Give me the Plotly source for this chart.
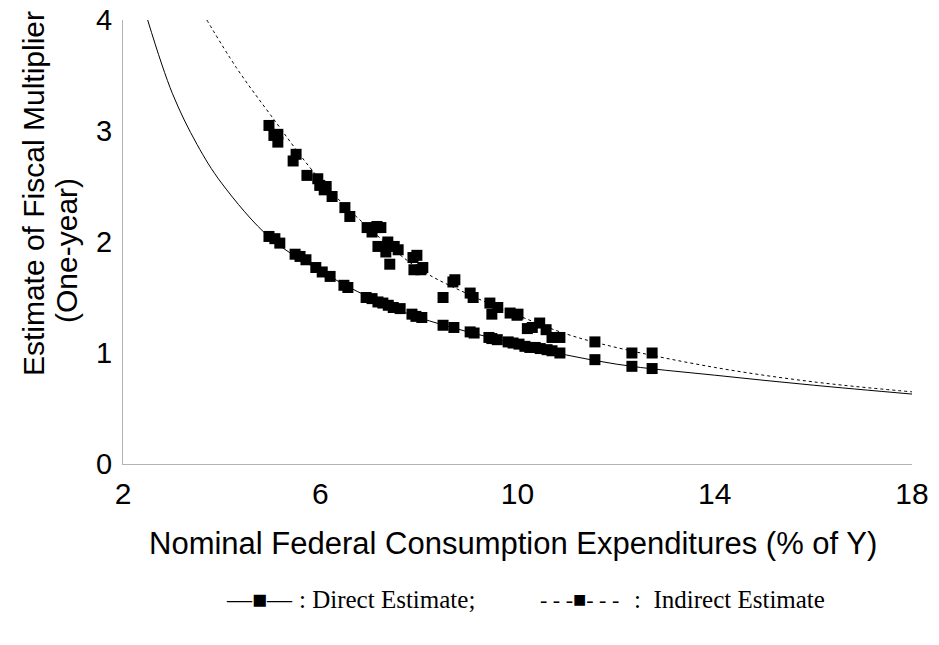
import plotly.graph_objects as go

direct_x = [4.96, 5.08, 5.18, 5.49, 5.59, 5.71, 5.91, 6.04, 6.20, 6.48, 6.56, 6.93, 7.05, 7.17,
            7.27, 7.38, 7.48, 7.62, 7.86, 7.94, 8.06, 8.49, 8.71, 9.04, 9.12, 9.42, 9.48, 9.59,
            9.81, 9.91, 10.03, 10.15, 10.25, 10.36, 10.46, 10.60, 10.70, 10.86, 11.57, 12.32, 12.73]
direct_y = [2.05, 2.03, 1.99, 1.89, 1.87, 1.84, 1.77, 1.73, 1.69, 1.61, 1.59, 1.50, 1.49, 1.46,
            1.45, 1.43, 1.41, 1.40, 1.35, 1.33, 1.32, 1.25, 1.23, 1.19, 1.18, 1.14, 1.13, 1.12,
            1.10, 1.09, 1.08, 1.06, 1.05, 1.05, 1.04, 1.03, 1.02, 1.00, 0.94, 0.88, 0.86]

indirect_x = [4.96, 5.06, 5.14, 5.14, 5.45, 5.51, 5.73, 5.95, 5.99, 6.08, 6.12, 6.24, 6.50, 6.60,
              6.95, 7.05, 7.15, 7.15, 7.17, 7.23, 7.33, 7.37, 7.41, 7.50, 7.58, 7.88, 7.90, 7.96,
              8.04, 8.08, 8.49, 8.69, 8.73, 9.04, 9.10, 9.44, 9.48, 9.60, 9.85, 9.99, 10.01,
              10.20, 10.30, 10.45, 10.58, 10.70, 10.86, 11.57, 12.32, 12.73]
indirect_y = [3.05, 2.96, 2.97, 2.90, 2.73, 2.79, 2.60, 2.57, 2.51, 2.47, 2.50, 2.41, 2.31, 2.23,
              2.13, 2.09, 2.14, 2.13, 1.96, 2.13, 1.91, 2.00, 1.80, 1.96, 1.93, 1.86, 1.75, 1.88,
              1.75, 1.77, 1.50, 1.64, 1.66, 1.54, 1.50, 1.45, 1.35, 1.41, 1.36, 1.34, 1.35,
              1.22, 1.23, 1.27, 1.21, 1.14, 1.14, 1.10, 1.00, 1.00]

# Fitted curves
direct_curve_x = [2.5, 3.0, 3.5, 4.0, 5.0, 6.0, 7.0, 8.0, 10.0, 12.0, 14.0, 16.0, 18.0]
direct_curve_y = [4.0, 3.34, 2.88, 2.53, 2.03, 1.74, 1.50, 1.32, 1.08, 0.90, 0.80, 0.71, 0.63]

indirect_curve_x = [3.7, 4.3, 5.0, 6.0, 7.0, 8.0, 9.0, 10.0, 11.0, 12.0, 14.0, 16.0, 18.0]
indirect_curve_y = [4.0, 3.57, 3.14, 2.56, 2.12, 1.76, 1.53, 1.34, 1.17, 1.05, 0.87, 0.74, 0.65]

x_ticks = [2, 6, 10, 14, 18]
y_ticks = [0, 1, 2, 3, 4]

fig = go.Figure()
fig.add_trace(go.Scatter(x=direct_curve_x, y=direct_curve_y, mode="lines",
                         line=dict(color="black", width=1, shape="spline"), showlegend=False))
fig.add_trace(go.Scatter(x=indirect_curve_x, y=indirect_curve_y, mode="lines",
                         line=dict(color="black", width=1, dash="3px,3px", shape="spline"), showlegend=False))
fig.add_trace(go.Scatter(x=direct_x, y=direct_y, mode="markers",
                         marker=dict(symbol="square", size=11, color="black"), showlegend=False))
fig.add_trace(go.Scatter(x=indirect_x, y=indirect_y, mode="markers",
                         marker=dict(symbol="square", size=11, color="black"), showlegend=False))

ann_font = dict(size=30, family="Liberation Sans", color="black")
leg_font = dict(size=25, family="Liberation Serif", color="black")
leg_y = -0.306

fig.update_layout(
    width=923, height=629,
    margin=dict(l=115, r=19, t=12, b=173, autoexpand=False),
    plot_bgcolor="white", paper_bgcolor="white",
    font=dict(family="Liberation Sans", color="black"),
    xaxis=dict(range=[2, 18], tickvals=x_ticks, showgrid=False, zeroline=False,
               showline=True, linecolor="#b3b3b3", linewidth=1, ticks="", automargin=False,
               ticklabeloverflow="allow",
               tickfont=dict(size=30, family="Liberation Sans", color="black"), ticklabelstandoff=3),
    yaxis=dict(range=[0, 4], tickvals=y_ticks, showgrid=False, zeroline=False,
               showline=True, linecolor="#b3b3b3", linewidth=1, ticks="", automargin=False,
               ticklabeloverflow="allow",
               tickfont=dict(size=29, family="Liberation Sans", color="black"), ticklabelstandoff=4),
    annotations=[
        dict(text="Nominal Federal Consumption Expenditures (% of Y)", xref="paper", yref="paper",
             x=0.4937, y=-0.178, xanchor="center", yanchor="middle", showarrow=False,
             font=dict(size=31, family="Liberation Sans", color="black")),
        dict(text="Estimate of Fiscal Multiplier", xref="paper", yref="paper",
             x=-0.114, y=0.608, xanchor="center", yanchor="middle", showarrow=False, textangle=-90,
             font=ann_font),
        dict(text="(One-year)", xref="paper", yref="paper",
             x=-0.071, y=0.482, xanchor="center", yanchor="middle", showarrow=False, textangle=-90,
             font=ann_font),
        dict(text="\u2014\u25a0\u2014", xref="paper", yref="paper", x=0.173, y=leg_y,
             xanchor="center", yanchor="middle", showarrow=False, font=leg_font),
        dict(text=": Direct Estimate;", xref="paper", yref="paper", x=0.2205, y=leg_y,
             xanchor="left", yanchor="middle", showarrow=False, font=leg_font),
        dict(text="- - -\u25a0- - -", xref="paper", yref="paper", x=0.5786, y=leg_y,
             xanchor="center", yanchor="middle", showarrow=False,
             font=dict(size=22, family="Liberation Serif", color="black")),
        dict(text=":\u00a0 Indirect Estimate", xref="paper", yref="paper", x=0.645, y=leg_y,
             xanchor="left", yanchor="middle", showarrow=False, font=leg_font),
    ],
)

fig.write_html("out.html")
